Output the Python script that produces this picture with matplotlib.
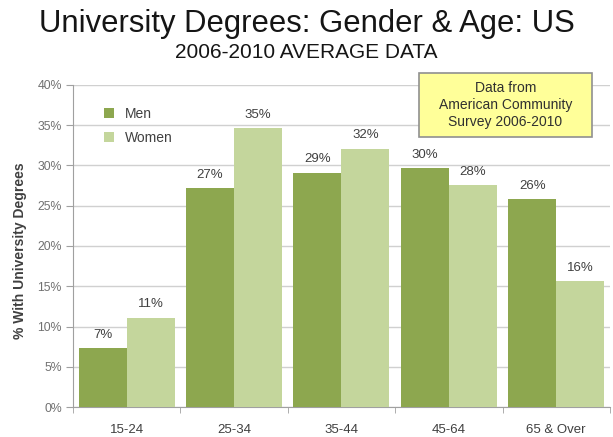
import matplotlib
matplotlib.use("Agg")
import matplotlib.pyplot as plt
from matplotlib.patches import Rectangle
import numpy as np

categories = ["15-24", "25-34", "35-44", "45-64", "65 & Over"]
men = [7.3, 27.2, 29.1, 29.7, 25.8]
women = [11.1, 34.6, 32.1, 27.6, 15.6]
yticks = [0, 5, 10, 15, 20, 25, 30, 35, 40]

plt.rcParams['font.family'] = ['Liberation Sans', 'DejaVu Sans']

fig = plt.figure(figsize=(6.13, 4.37), dpi=100)
ax = fig.add_axes([0.119, 0.0686, 0.876, 0.737])

men_c = '#8DA74F'
women_c = '#C4D69C'
x = np.arange(len(categories))
w = 0.447
ax.bar(x - w/2, men, width=w, color=men_c, label='Men', zorder=3)
ax.bar(x + w/2, women, width=w, color=women_c, label='Women', zorder=3)

for xi, v in zip(x - w/2, men):
    ax.text(xi, v + 0.9, f"{round(v)}%", ha='center', va='bottom', fontsize=9.5, color='#404040', zorder=4)
for xi, v in zip(x + w/2, women):
    ax.text(xi, v + 0.9, f"{round(v)}%", ha='center', va='bottom', fontsize=9.5, color='#404040', zorder=4)

ax.set_xlim(-0.5, len(categories) - 0.5)
ax.set_ylim(0, 40)
ax.set_yticks(yticks)
ax.set_yticklabels([f"{t}%" for t in yticks], fontsize=8.8, color='#707070')
ax.yaxis.grid(True, color='#D0D0D0', linewidth=1, zorder=0)
ax.set_xticks(x)
ax.set_xticklabels(categories, fontsize=9.5, color='#404040')
ax.tick_params(axis='x', length=0, pad=12)
ax.set_xticks(np.arange(-0.5, len(categories)), minor=True)
ax.tick_params(axis='x', which='minor', length=4, color='#A0A0A0')
ax.tick_params(axis='y', length=5, color='#A0A0A0', pad=3)
for s in ['top', 'right']:
    ax.spines[s].set_visible(False)
for s in ['left', 'bottom']:
    ax.spines[s].set_color('#A0A0A0')

ax.set_ylabel('% With University Degrees', fontsize=10, color='#404040', fontweight='bold')
ax.yaxis.set_label_coords(-0.085, 0.485)

ax.legend(loc='upper left', bbox_to_anchor=(0.035, 0.97), frameon=False, fontsize=10,
          handlelength=0.7, handleheight=0.7, labelspacing=0.7, labelcolor='#404040')

fig.text(0.5, 0.945, "University Degrees: Gender & Age: US", ha='center', va='center', fontsize=22.3, color='#151515')
fig.text(0.5, 0.881, "2006-2010 AVERAGE DATA", ha='center', va='center', fontsize=15, color='#151515')

ax.add_patch(Rectangle((0.644, 0.839), 0.322, 0.198, transform=ax.transAxes, facecolor='#FFFF99',
                       edgecolor='#909090', linewidth=1.2, zorder=5, clip_on=False))
ax.text(0.805, 0.938, "Data from\nAmerican Community\nSurvey 2006-2010", transform=ax.transAxes,
        ha='center', va='center', fontsize=10, color='#303030', linespacing=1.3, zorder=6)

fig.savefig('out.png', dpi=100)
